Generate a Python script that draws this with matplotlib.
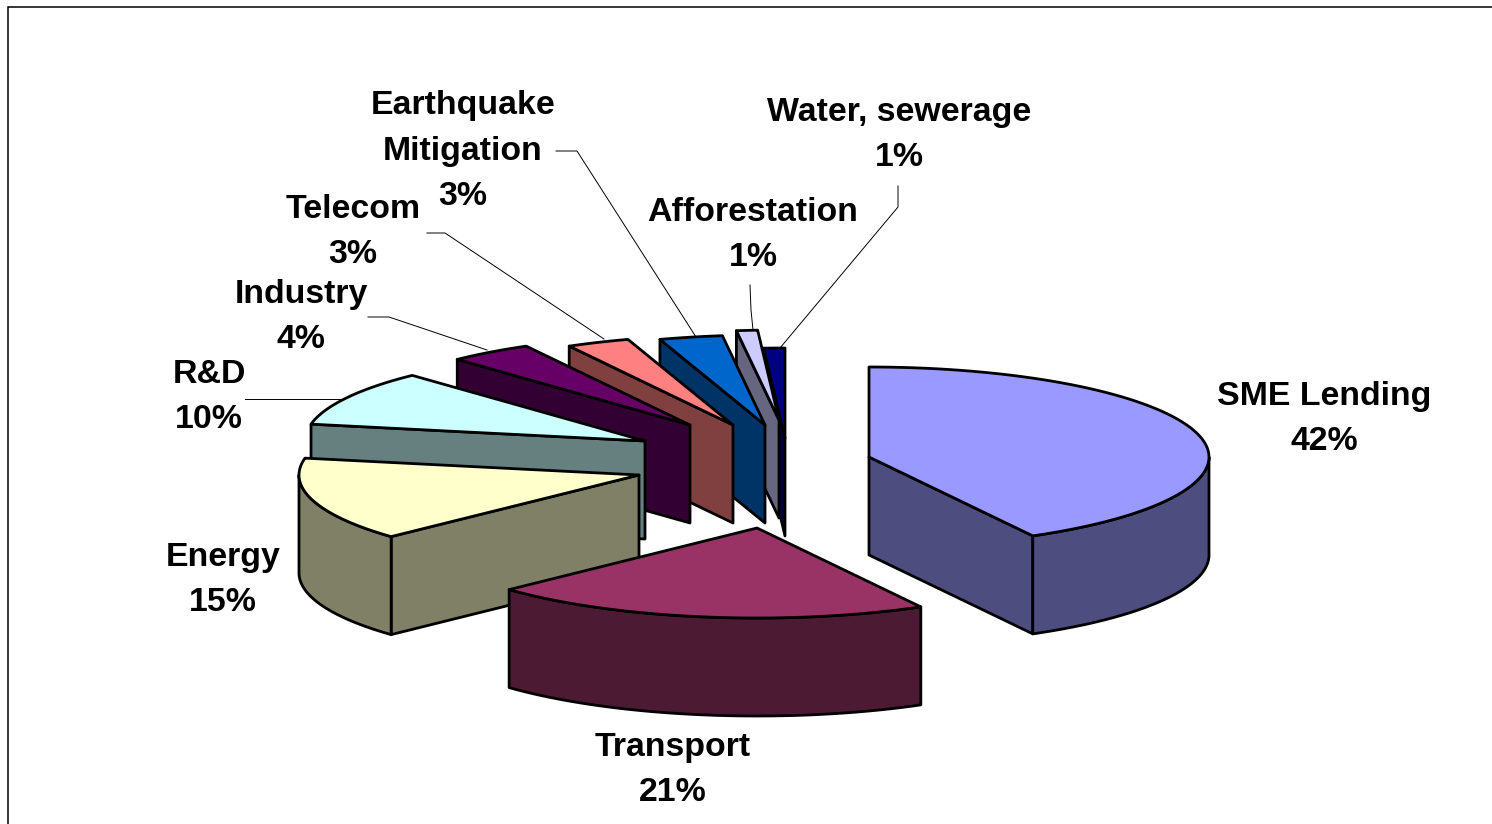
import numpy as np
import matplotlib
matplotlib.use("Agg")
import matplotlib.pyplot as plt
from matplotlib.patches import Polygon

# Project portfolio shares, clockwise from twelve o'clock
sectors = ["SME Lending", "Transport", "Energy", "R&D", "Industry", "Telecom",
           "Earthquake\nMitigation", "Afforestation", "Water, sewerage"]
shares = [42, 21, 15, 10, 4, 3, 3, 1, 1]

top_colors = ["#9999FF", "#993366", "#FFFFCC", "#CCFFFF", "#660066",
              "#FF8080", "#0066CC", "#CCCCFF", "#000080"]
side_colors = ["#4D4D80", "#4D1A33", "#808066", "#668080", "#330033",
               "#804040", "#003366", "#666680", "#000040"]

# Pie geometry in canvas pixels
CENTER = (785, 465)
RX, RY, DEPTH = 340, 90, 98
EDGE = 2.0

# How far each wedge is pulled out of the pie
explode_x = [84, -28, -146, -140, -95, -52, -20, -6, 0]
explode_y = [-8, 63, 10, -24, -40, -40, -40, -45, -27]

# Text anchors (centre x, centre y of the block)
label_x = [1324, 673, 223, 209, 301, 353, 463, 753, 899]
label_y = [419, 770, 580, 397, 317, 232, 151, 235, 135]

# Leader lines as (x, y) polylines from label to wedge
leaders = {
    "R&D": [(245, 399), (343, 399)],
    "Industry": [(368, 317), (389, 317), (487, 350)],
    "Telecom": [(427, 233), (445, 233), (604, 339)],
    "Earthquake": [(556, 151), (577, 151), (696, 337)],
    "Afforestation": [(750, 285), (751, 310), (753, 330)],
    "Water": [(898, 186), (898, 207), (780, 348)],
}

plt.rcParams["font.family"] = ["Liberation Sans", "DejaVu Sans"]

fig = plt.figure(figsize=(14.92, 8.24), dpi=100, facecolor="white")
ax = fig.add_axes([0, 0, 1, 1])
ax.set_xlim(0, 1492)
ax.set_ylim(824, 0)
ax.axis("off")

# Outer chart frame: only the top and left edges fall on the canvas
ax.plot([8, 8, 1492], [824, 6.5, 6.5], color="black", lw=1.1, solid_joinstyle="miter")


def rim(ax_x, ax_y, a1, a2, n=80):
    t = np.radians(np.linspace(a1, a2, n))
    return np.column_stack([ax_x + RX * np.sin(t), ax_y - RY * np.cos(t)])


def face(points, color, z):
    ax.add_patch(Polygon(points, closed=True, facecolor=color, edgecolor="black",
                         lw=EDGE, joinstyle="round", zorder=z))


def drop(points):
    return points + np.array([0, DEPTH])


ends = np.cumsum(shares) / sum(shares) * 360
starts = np.concatenate([[0], ends[:-1]])

# Painter's order: far wedges first, the front wedge last
order = [8, 7, 6, 5, 4, 3, 2, 0, 1]
for rank, i in enumerate(order):
    a1, a2 = starts[i], ends[i]
    cx = CENTER[0] + explode_x[i]
    cy = CENTER[1] + explode_y[i]
    apex = np.array([[cx, cy]])
    z = 2 + rank

    # Cut faces toward the viewer
    if a2 <= 180:
        edge = np.vstack([apex, rim(cx, cy, a2, a2, 1)])
        face(np.vstack([edge, drop(edge)[::-1]]), side_colors[i], z)
    if a1 >= 180:
        edge = np.vstack([apex, rim(cx, cy, a1, a1, 1)])
        face(np.vstack([edge, drop(edge)[::-1]]), side_colors[i], z)

    # Outer wall, only where the rim faces the viewer
    lo, hi = max(a1, 90), min(a2, 270)
    if lo < hi:
        arc = rim(cx, cy, lo, hi)
        face(np.vstack([arc, drop(arc)[::-1]]), side_colors[i], z)

    # Top of the wedge
    face(np.vstack([apex, rim(cx, cy, a1, a2)]), top_colors[i], z)

for path in leaders.values():
    xs, ys = zip(*path)
    ax.plot(xs, ys, color="black", lw=0.7, zorder=1)

for name, share, x, y in zip(sectors, shares, label_x, label_y):
    ax.text(x, y, f"{name}\n{share}%", ha="center", va="center", multialignment="center",
            fontsize=24.4, fontweight="bold", color="black", linespacing=1.6, zorder=20)

fig.savefig("out.png", dpi=100, facecolor="white")
